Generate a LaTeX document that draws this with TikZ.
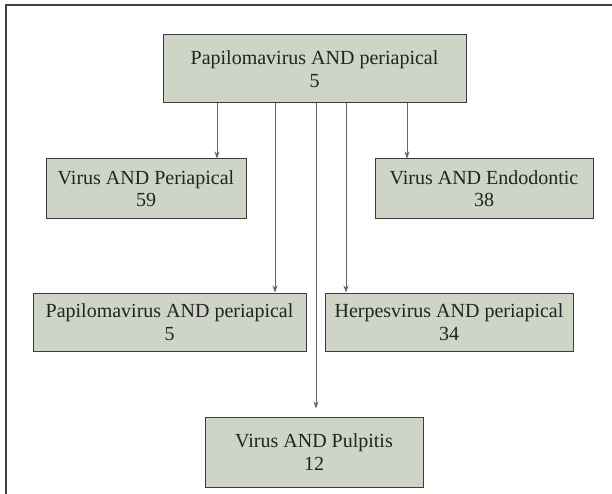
\documentclass[tikz,border=0pt]{standalone}
\usepackage{fontspec}
\setmainfont{Liberation Serif}
\usetikzlibrary{arrows.meta}
\definecolor{boxfill}{RGB}{207,213,198}
\definecolor{boxline}{RGB}{60,60,60}
\definecolor{txt}{RGB}{35,35,35}
\tikzset{
  qbox/.style={draw=boxline, line width=1pt, fill=boxfill, text=txt, align=center,
    inner sep=0pt, font=\fontsize{20}{22.5}\selectfont},
  arr/.style={draw=black!60, line width=0.8pt, -{Stealth[length=7pt,width=5pt,fill=black!85]}},
  frame/.style={draw=black!75, line width=1.3pt}
}
\begin{document}
\begin{tikzpicture}[x=1pt,y=-1pt]
\useasboundingbox (0,0) rectangle (612,494);
\draw[frame] (612,5) -- (6,5) -- (6,494);
\node[qbox, minimum width=303pt, minimum height=68pt] (top) at (314.5,69) {Papilomavirus AND periapical\\5};
\node[qbox, minimum width=200pt, minimum height=59pt] (vp) at (146,188.5) {Virus AND Periapical\\59};
\node[qbox, minimum width=218pt, minimum height=59pt] (ve) at (484,188.5) {Virus AND Endodontic\\38};
\node[qbox, minimum width=273pt, minimum height=58pt] (pp) at (169.5,322) {Papilomavirus AND periapical\\5};
\node[qbox, minimum width=248pt, minimum height=58pt] (hp) at (449,322) {Herpesvirus AND periapical\\34};
\node[qbox, minimum width=218pt, minimum height=70pt] (pul) at (314,452) {Virus AND Pulpitis\\12};
\coordinate (c1) at (217,0);
\coordinate (c2) at (275,0);
\coordinate (c3) at (316,0);
\coordinate (c4) at (346,0);
\coordinate (c5) at (407,0);
\draw[arr] (top.south -| c1) -- (vp.north -| c1);
\draw[arr] (top.south -| c2) -- (pp.north -| c2);
\draw[arr, shorten >=8pt] (top.south -| c3) -- (pul.north -| c3);
\draw[arr] (top.south -| c4) -- (hp.north -| c4);
\draw[arr] (top.south -| c5) -- (ve.north -| c5);
\end{tikzpicture}
\end{document}
